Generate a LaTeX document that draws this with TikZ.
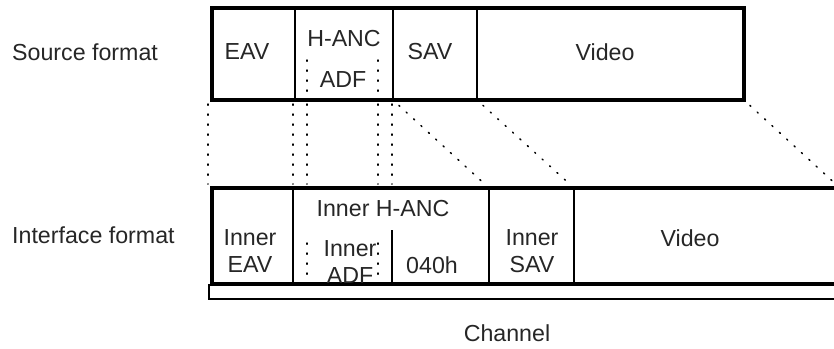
\documentclass[tikz,border=0pt]{standalone}
\usepackage{fontspec}
\setmainfont{Liberation Sans}
\begin{document}
\begin{tikzpicture}[x=1pt,y=-1pt,
  lbl/.style={font=\fontsize{23.2}{27}\selectfont, inner sep=0pt, align=center, text=black!85},
  cellbox/.style 2 args={draw, line width=1.8pt, minimum width=#1pt, minimum height=#2pt, anchor=north west, inner sep=0pt, outer sep=0pt},
  outerframe/.style={draw, line width=3.6pt},
  dotline/.style={line width=1.5pt, dash pattern=on 1.2pt off 8.8pt, line cap=round},
  sideline/.style={line width=1.8pt}
]
\clip (0,0) rectangle (834,348);
\useasboundingbox (0,0) rectangle (834,348);

% ---- source format row
\node[cellbox={83}{92}] (eav) at (212,8) {};
\node[cellbox={98}{92}] (hanc) at (295,8) {};
\node[cellbox={84}{92}] (sav) at (393,8) {};
\node[cellbox={267}{92}] (video) at (477,8) {};
\draw[outerframe] (eav.north west) rectangle (video.south east);

\coordinate (adfTLt) at (307,60); \coordinate (adfTLb) at (307,100);
\coordinate (adfTRt) at (378,60); \coordinate (adfTRb) at (378,100);
\draw[dotline] (adfTLt) -- (adfTLb);
\draw[dotline] (adfTRt) -- (adfTRb);

\node[lbl, anchor=west] (srcl) at (12,52) {Source format};
\node[lbl] (teav) at (247,52) {EAV};
\node[lbl] (thanc) at (344,39) {H-ANC};
\node[lbl] (tadf) at (343,80) {ADF};
\node[lbl] (tsav) at (430,52) {SAV};
\node[lbl] (tvid) at (605,52) {Video};

% ---- interface format row
\node[cellbox={81}{96}] (ieav) at (212,188) {};
\node[cellbox={196}{96}] (ihanc) at (293,188) {};
\node[cellbox={85}{96}] (isav) at (489,188) {};
\node[cellbox={290}{96}] (ivideo) at (574,188) {};
\draw[outerframe] (ieav.north west) rectangle (ivideo.south east);
\node[draw, line width=1.6pt, minimum width=660pt, minimum height=14pt, anchor=north west, inner sep=0pt] (chan) at (208,284) {};

\coordinate (solidt) at (392,230); \coordinate (solidb) at (392,284);
\draw[sideline] (solidt) -- (solidb);
\coordinate (adfBLt) at (307,243); \coordinate (adfBLb) at (307,284);
\coordinate (adfBRt) at (378,243); \coordinate (adfBRb) at (378,284);
\draw[dotline] (adfBLt) -- (adfBLb);
\draw[dotline] (adfBRt) -- (adfBRb);

\node[lbl, anchor=west] (ifcl) at (12,235) {Interface format};
\node[lbl] (tihanc) at (383,209) {Inner H-ANC};
\node[lbl] (tieav) at (250,251) {Inner\\EAV};
\node[lbl] (tiadf) at (350,262) {Inner\\ADF};
\node[lbl] (t040) at (432,265) {040h};
\node[lbl] (tisav) at (532,251) {Inner\\SAV};
\node[lbl] (tivid) at (690,238) {Video};
\node[lbl] (tchan) at (507,333) {Channel};

% ---- connectors
\coordinate (c1t) at (208,104); \coordinate (c1b) at (208,184);
\draw[dotline] (c1t) -- (c1b);
\coordinate (c2t) at (293,104); \coordinate (c2b) at (293,184);
\draw[dotline] (c2t) -- (c2b);
\coordinate (c3t) at (307,104); \coordinate (c3b) at (307,184);
\draw[dotline] (c3t) -- (c3b);
\coordinate (c4t) at (378,104); \coordinate (c4b) at (378,184);
\draw[dotline] (c4t) -- (c4b);
\coordinate (c5t) at (392,104); \coordinate (c5b) at (392,184);
\draw[dotline] (c5t) -- (c5b);
\draw[dotline, shorten <=8pt, shorten >=8pt] (sav.south west) -- (isav.north west);
\draw[dotline, shorten <=8pt, shorten >=8pt] (video.south west) -- (ivideo.north west);
\coordinate (farend) at (840,188);
\draw[dotline, shorten <=8pt, shorten >=8pt] (video.south east) -- (farend);
\end{tikzpicture}
\end{document}
